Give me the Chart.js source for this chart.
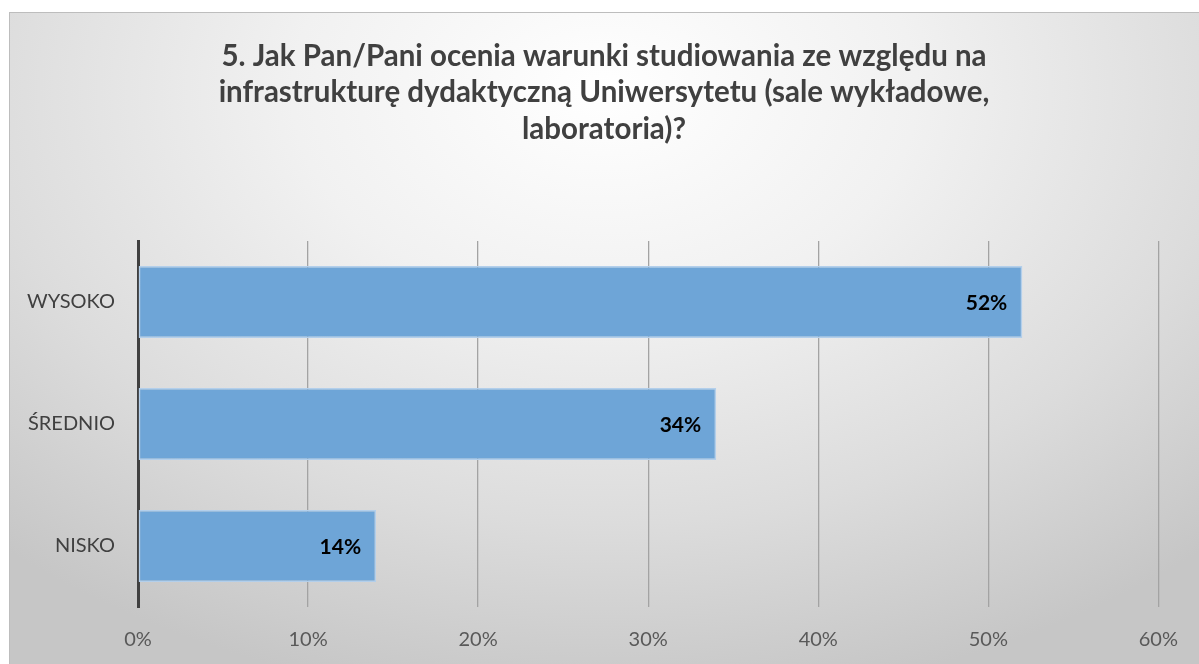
<!DOCTYPE html>
<html>
<head>
<meta charset="utf-8">
<script src="https://cdn.jsdelivr.net/npm/chart.js@4.4.1/dist/chart.umd.min.js"></script>
<style>
  html, body { margin: 0; padding: 0; background: #ffffff; }
  #wrap { position: relative; width: 1199px; height: 664px; overflow: hidden; }
  #bg { position: absolute; left: 9px; top: 12px; width: 1190px; height: 652px;
        box-sizing: border-box; border-top: 1px solid #bdbdbd; border-left: 1px solid #bdbdbd;
        background: radial-gradient(ellipse 75% 95% at 50% 12%, #ffffff 0%, #f1f1f1 35%, #dcdcdc 70%, #c6c6c6 100%); }
  #c { position: absolute; left: 0; top: 0; }
</style>
</head>
<body>
<div id="wrap">
  <div id="bg"></div>
  <canvas id="c" width="1199" height="664"></canvas>
</div>
<script>
const titleLines = [
  "5. Jak Pan/Pani ocenia warunki studiowania ze względu na",
  "infrastrukturę dydaktyczną Uniwersytetu (sale wykładowe,",
  "laboratoria)?"
];
const categories = ["WYSOKO", "ŚREDNIO", "NISKO"];
const values = [52, 34, 14];
const xTicks = [0, 10, 20, 30, 40, 50, 60];

const titlePlugin = {
  id: 'customTitle',
  afterDraw(chart) {
    const ctx = chart.ctx;
    ctx.save();
    ctx.font = 'bold 29.5px Lato, "Open Sans", sans-serif';
    ctx.fillStyle = '#404040';
    ctx.textAlign = 'center';
    ctx.textBaseline = 'middle';
    const cx = 604, y0 = 56, lh = 36.5;
    titleLines.forEach((t, i) => ctx.fillText(t, cx, y0 + i * lh));
    ctx.restore();
  }
};

const valueLabels = {
  id: 'valueLabels',
  afterDatasetsDraw(chart) {
    const ctx = chart.ctx;
    const meta = chart.getDatasetMeta(0);
    ctx.save();
    ctx.font = 'bold 21px Lato, "Open Sans", sans-serif';
    ctx.fillStyle = '#000000';
    ctx.textAlign = 'right';
    ctx.textBaseline = 'middle';
    meta.data.forEach((bar, i) => {
      ctx.fillText(values[i] + '%', bar.x - 15, bar.y + 1);
    });
    ctx.restore();
  }
};

new Chart(document.getElementById('c'), {
  type: 'bar',
  data: {
    labels: categories,
    datasets: [{
      data: values,
      backgroundColor: '#6ea5d7',
      borderColor: '#b3cfeb',
      borderWidth: 1.5,
      borderSkipped: false,
      barPercentage: 0.59,
      categoryPercentage: 1.0
    }]
  },
  options: {
    indexAxis: 'y',
    responsive: false,
    animation: false,
    layout: { padding: { top: 241, right: 40, left: 0, bottom: 0 } },
    plugins: { legend: { display: false }, tooltip: { enabled: false }, title: { display: false } },
    scales: {
      x: {
        min: 0, max: 60,
        afterBuildTicks(scale) { scale.ticks = xTicks.map(v => ({ value: v })); },
        afterFit(scale) { scale.height = 57; },
        grid: { color: '#a3a3a3', lineWidth: 1.3, drawTicks: false },
        border: { display: false },
        ticks: {
          padding: 21,
          color: '#595959',
          font: { family: 'Lato, "Open Sans", sans-serif', size: 20 },
          callback: v => v + '%'
        }
      },
      y: {
        afterFit(scale) { scale.width = 138; },
        grid: { display: false, drawTicks: false },
        border: { display: true, color: '#404040', width: 3 },
        ticks: {
          padding: 23,
          color: '#404040',
          font: { family: 'Lato, "Open Sans", sans-serif', size: 20 }
        }
      }
    }
  },
  plugins: [titlePlugin, valueLabels]
});
</script>
</body>
</html>
